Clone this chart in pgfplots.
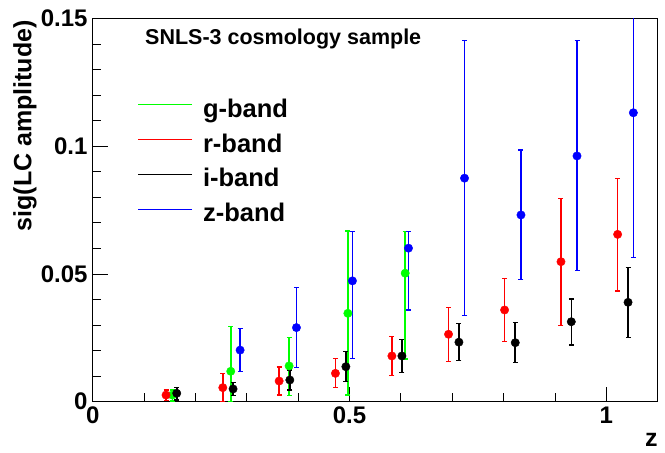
\documentclass[border=0pt]{standalone}
\usepackage{fontspec}
\setmainfont{Liberation Sans}
\usepackage{pgfplots}
\pgfplotsset{compat=1.18}
\usepackage{pgfplotstable}

\pgfplotstableread{
x y ep em
0.1551 0.0026 0.0020 0.0023
0.2688 0.0119 0.0175 0.0119
0.3824 0.0140 0.0112 0.0116
0.4968 0.0346 0.0322 0.0320
0.6084 0.0503 0.0163 0.0336
}\greentab

\pgfplotstableread{
x y ep em
0.1428 0.0026 0.0020 0.0022
0.2533 0.0055 0.0056 0.0055
0.3630 0.0081 0.0055 0.0055
0.4726 0.0111 0.0059 0.0056
0.5825 0.0179 0.0075 0.0078
0.6928 0.0264 0.0104 0.0107
0.8019 0.0359 0.0124 0.0124
0.9117 0.0548 0.0248 0.0250
1.0220 0.0655 0.0219 0.0222
}\redtab

\pgfplotstableread{
x y ep em
0.1636 0.0033 0.0024 0.0026
0.2733 0.0050 0.0025 0.0026
0.3838 0.0085 0.0039 0.0039
0.4929 0.0137 0.0059 0.0059
0.6020 0.0179 0.0063 0.0064
0.7130 0.0233 0.0074 0.0072
0.8227 0.0231 0.0078 0.0078
0.9318 0.0313 0.0089 0.0091
1.0423 0.0389 0.0137 0.0139
}\blacktab

\pgfplotstableread{
x y ep em
0.2870 0.0202 0.0085 0.0085
0.3967 0.0290 0.0156 0.0157
0.5057 0.0473 0.0193 0.0303
0.6148 0.0601 0.0065 0.0242
0.7239 0.0875 0.0538 0.0539
0.8338 0.0731 0.0254 0.0254
0.9429 0.0962 0.0451 0.0449
1.0526 0.1131 0.0567 0.0567
}\bluetab

\begin{document}
\begin{tikzpicture}
\useasboundingbox (-92.7pt,-51.3pt) rectangle (572.3pt,401.7pt);
\begin{axis}[
  at={(0pt,0pt)}, anchor=south west,
  scale only axis, width=565pt, height=383.2pt,
  xmin=0, xmax=1.1, ymin=0, ymax=0.15,
  axis line style={line width=1pt, black},
  tick pos=left, tick align=inside,
  xtick={0,0.5,1}, xticklabels={0,0.5,1},
  ytick={0,0.05,0.1,0.15}, yticklabels={0,0.05,0.1,0.15},
  scaled y ticks=false, scaled x ticks=false,
  minor x tick num=4, minor y tick num=4,
  major tick length=15pt, minor tick length=8.5pt,
  every tick/.style={line width=0.8pt, black},
  ticklabel style={font=\fontsize{24}{24}\selectfont\bfseries, inner sep=0pt},
  yticklabel style={anchor=east, xshift=-5pt},
  xticklabel style={anchor=north, yshift=-5pt},
  xlabel={z},
  xlabel style={at={(axis description cs:1,-0.1173)}, anchor=base east, inner sep=0pt, font=\fontsize{25}{25}\selectfont\bfseries},
  ylabel={sig(LC amplitude)},
  ylabel style={at={(axis description cs:-0.1198,0.996)}, anchor=east, inner sep=0pt, font=\fontsize{25}{25}\selectfont\bfseries},
  legend cell align=left,
  legend image code/.code={\draw[#1, mark=-, mark size=27pt, mark options={line width=1.2pt}] plot coordinates {(27pt,6.6pt)};},
  legend style={at={(axis description cs:0.0802,0.789)}, anchor=north west,
    draw=none, fill=none, inner sep=0pt, outer sep=0pt,
    row sep=10.8pt, column sep=11pt,
    font=\fontsize{25.5}{25.5}\selectfont\bfseries,
    nodes={inner sep=0pt, text height=18pt, text depth=6pt}},
]
\addplot[only marks, mark=*, mark size=4.2pt, color=green,
  error bars/.cd, y dir=both, y explicit,
  error bar style={line width=1.6pt, color=green},
  error mark options={rotate=90, mark size=2.5pt, line width=1.2pt, color=green}]
  table[x=x, y=y, y error plus=ep, y error minus=em]{\greentab};
\addlegendentry{g-band}
\addplot[only marks, mark=*, mark size=4.2pt, color=red,
  error bars/.cd, y dir=both, y explicit,
  error bar style={line width=1.6pt, color=red},
  error mark options={rotate=90, mark size=2.5pt, line width=1.2pt, color=red}]
  table[x=x, y=y, y error plus=ep, y error minus=em]{\redtab};
\addlegendentry{r-band}
\addplot[only marks, mark=*, mark size=4.2pt, color=black,
  error bars/.cd, y dir=both, y explicit,
  error bar style={line width=1.6pt, color=black},
  error mark options={rotate=90, mark size=2.5pt, line width=1.2pt, color=black}]
  table[x=x, y=y, y error plus=ep, y error minus=em]{\blacktab};
\addlegendentry{i-band}
\addplot[only marks, mark=*, mark size=4.2pt, color=blue,
  error bars/.cd, y dir=both, y explicit,
  error bar style={line width=1.6pt, color=blue},
  error mark options={rotate=90, mark size=2.5pt, line width=1.2pt, color=blue}]
  table[x=x, y=y, y error plus=ep, y error minus=em]{\bluetab};
\addlegendentry{z-band}
\node[anchor=base west, inner sep=0pt, font=\fontsize{21.5}{21.5}\selectfont\bfseries]
  at (axis description cs:0.0926,0.931) {SNLS-3 cosmology sample};
\end{axis}
\end{tikzpicture}
\end{document}
